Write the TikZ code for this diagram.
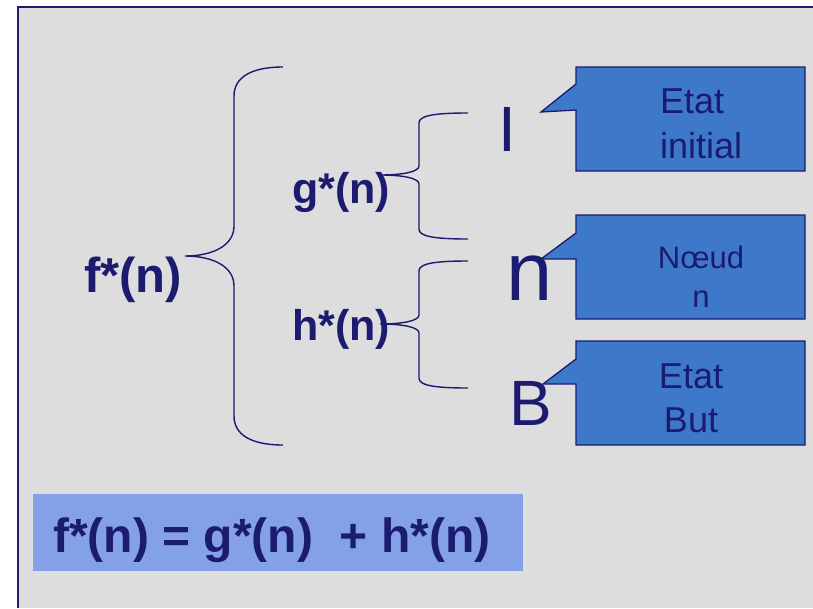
\documentclass[tikz,border=0pt]{standalone}
\usepackage{fontspec}
\setmainfont{Liberation Sans}
\definecolor{navy}{HTML}{1B1B70}
\definecolor{panelgray}{HTML}{DDDDDD}
\definecolor{callblue}{HTML}{3E78C8}
\definecolor{formblue}{HTML}{84A1E8}
\tikzset{
  brace/.style={draw=navy, line width=1.4pt},
  callbox/.style={draw=navy, fill=callblue, line width=1.3pt, line join=miter},
  boldlbl/.style={text=navy, inner sep=0pt, font=\bfseries\fontsize{#1}{#1}\selectfont},
  biglet/.style={text=navy, inner sep=0pt, font=\fontsize{#1}{#1}\selectfont},
  calltxt/.style={text=navy, inner sep=0pt, font=\fontsize{#1}{#1}\selectfont},
}
\begin{document}
\begin{tikzpicture}[x=1pt,y=-1pt]
\useasboundingbox (0,0) rectangle (813,608);
\fill[white] (0,0) rectangle (813,608);
\fill[panelgray] (18,7) rectangle (813,608);
\draw[navy, line width=2pt] (18,608) -- (18,7) -- (813,7);

% big brace
\coordinate (bigtop) at (283,67);
\coordinate (bigtip) at (185,256);
\coordinate (bigbot) at (283,445);
\draw[brace] (bigtop) .. controls (250,67) and (234,78) .. (234,96)
  -- (234,226) .. controls (234,246) and (212,256) .. (bigtip)
  .. controls (212,256) and (234,266) .. (234,286)
  -- (234,416) .. controls (234,434) and (250,445) .. (bigbot);

% upper small brace
\coordinate (gtop) at (468,113);
\coordinate (gtip) at (380,175);
\coordinate (gbot) at (468,239);
\draw[brace] (gtop) .. controls (432,113) and (419,116) .. (419,123)
  -- (419,166) .. controls (419,172) and (402,175) .. (gtip)
  .. controls (402,175) and (419,178) .. (419,184)
  -- (419,229) .. controls (419,236) and (432,239) .. (gbot);

% lower small brace
\coordinate (htop) at (468,261);
\coordinate (htip) at (380,324);
\coordinate (hbot) at (468,388);
\draw[brace] (htop) .. controls (432,261) and (419,264) .. (419,271)
  -- (419,315) .. controls (419,321) and (402,324) .. (htip)
  .. controls (402,324) and (419,327) .. (419,333)
  -- (419,378) .. controls (419,385) and (432,388) .. (hbot);

% labels
\node[boldlbl=49, anchor=base west] (f) at (84,292) {f*(n)};
\node[boldlbl=43, anchor=base west] (g) at (292,203) {g*(n)};
\node[boldlbl=43, anchor=base west] (h) at (292,340) {h*(n)};

% big letters
\node[biglet=64, anchor=base] (I) at (507.5,151) {I};
\node[biglet=83, anchor=base] (n) at (530,300) {n};
\node[biglet=64, anchor=base] (B) at (531,425) {B};

% callouts
\draw[callbox] (576,67) -- (805,67) -- (805,171) -- (576,171) -- (576,110) -- (541,112) -- (576,84) -- cycle;
\draw[callbox] (576,215) -- (805,215) -- (805,319) -- (576,319) -- (576,259) -- (541,259) -- (576,233) -- cycle;
\draw[callbox] (576,341) -- (805,341) -- (805,445) -- (576,445) -- (576,384) -- (543,384) -- (576,359) -- cycle;

\node[calltxt=36, anchor=base west] (c1a) at (660,113) {Etat};
\node[calltxt=36, anchor=base west] (c1b) at (660,158) {initial};
\node[calltxt=31, anchor=base] (c2a) at (701,268) {Nœud};
\node[calltxt=31, anchor=base] (c2b) at (701,307) {n};
\node[calltxt=36, anchor=base] (c3a) at (691,388) {Etat};
\node[calltxt=36, anchor=base] (c3b) at (691,432) {But};

% formula
\fill[formblue] (33,494) rectangle (523,571);
\node[boldlbl=48, anchor=base west] (form) at (53,552) {f*(n) = g*(n)\ \ + h*(n)};
\end{tikzpicture}
\end{document}
